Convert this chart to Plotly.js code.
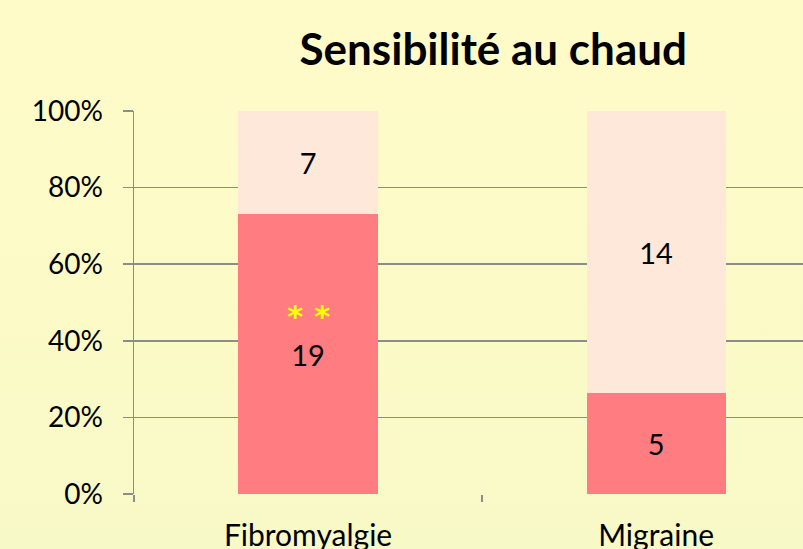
<!DOCTYPE html>
<html><head><meta charset="utf-8">
<script src="https://cdn.plot.ly/plotly-3.0.1.min.js"></script>
<style>
html,body{margin:0;padding:0;}
#chart{width:803px;height:549px;background:linear-gradient(to bottom,#FFFBC8 0%,#FCFBC8 50%,#F7F9C6 100%);}
</style></head>
<body><div id="chart"></div>
<script>
const categories = ['Fibromyalgie', 'Migraine'];
const sensitiveCounts = [19, 5];
const notSensitiveCounts = [7, 14];
const significance = ['* *', ''];
const chartTitle = 'Sensibilité au chaud';

const FONT = 'Lato, "Open Sans", sans-serif';

const traces = [
  {type:'bar', x:categories, y:sensitiveCounts, text:sensitiveCounts.map(String),
   marker:{color:'#FF7C80'}, width:0.4, textposition:'inside', insidetextanchor:'middle',
   constraintext:'none', textfont:{family:FONT, size:29, color:'#000'}, hoverinfo:'skip', showlegend:false},
  {type:'bar', x:categories, y:notSensitiveCounts, text:notSensitiveCounts.map(String),
   marker:{color:'#FDE8DA'}, width:0.4, textposition:'inside', insidetextanchor:'middle',
   constraintext:'none', textfont:{family:FONT, size:29, color:'#000'}, hoverinfo:'skip', showlegend:false}
];

const annotations = [];
categories.forEach((c,i)=>{
  if (significance[i]) {
    const pct = sensitiveCounts[i]/(sensitiveCounts[i]+notSensitiveCounts[i])*100;
    annotations.push({x:c, y:pct*0.635, xref:'x', yref:'y', text:'<b>'+significance[i]+'</b>', showarrow:false,
      font:{family:'"DejaVu Sans", sans-serif', size:31, color:'#FFFF00'}});
  }
});

const layout = {
  width:803, height:549,
  margin:{l:134, r:0, t:111, b:55},
  paper_bgcolor:'rgba(0,0,0,0)', plot_bgcolor:'rgba(0,0,0,0)',
  barmode:'stack', barnorm:'percent',
  title:{text:'<b>'+chartTitle+'</b>', font:{family:FONT, size:44, color:'#000'},
    x:0.537, xref:'paper', xanchor:'center', y:1-50/549, yref:'container', yanchor:'middle'},
  xaxis:{range:[-0.5, 1.422], showgrid:false, showline:false, zeroline:false,
    ticks:'outside', tickson:'boundaries', ticklen:7, tickwidth:1.5, tickcolor:'#8C8C8C',
    tickfont:{family:FONT, size:30, color:'#000'}, ticklabelstandoff:21},
  yaxis:{range:[0,100], dtick:20, ticksuffix:'%', showgrid:true, gridcolor:'#8C8C8C', gridwidth:1.5,
    zeroline:false, showline:true, linecolor:'#8C8C8C', linewidth:1.5,
    ticks:'outside', ticklen:10, tickwidth:1.5, tickcolor:'#8C8C8C',
    tickfont:{family:FONT, size:28, color:'#000'}, ticklabelstandoff:14},
  annotations:annotations,
  hovermode:false
};
Plotly.newPlot('chart', traces, layout, {displayModeBar:false, staticPlot:true});
</script></body></html>
